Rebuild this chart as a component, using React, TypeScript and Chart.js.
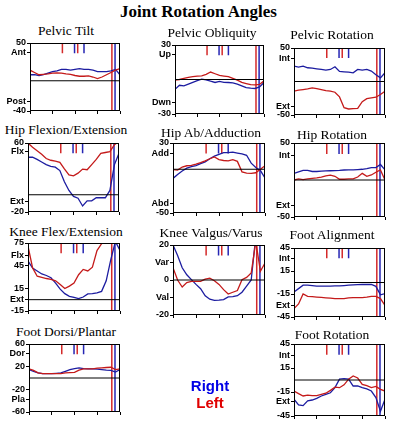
import React, { useEffect, useRef } from 'react';
import { Chart, registerables } from 'chart.js';

Chart.register(...registerables);

// ---- data ----
const cycle = [0, 5, 10, 15, 20, 25, 30, 35, 40, 45, 50, 55, 60, 65, 70, 75, 80, 85, 90, 95, 100];

const pelvicTiltLeft = [14, 11, 8, 8.5, 9, 10, 10.5, 10, 9, 8.5, 7, 6, 6, 6.5, 5, 3, 5, 8, 11, 14, 16];
const pelvicTiltRight = [8, 8, 7, 8, 10, 12, 13, 15, 15, 14, 15, 16, 15, 15, 14, 12, 12, 12, 13, 15, 8];

const pelvicObliquityLeft = [-0.5, 0, 1, 1.8, 2.5, 3, 3.2, 4.5, 6.5, 5, 3.5, 3, 2.5, 1, -0.5, -2.5, -3.5, -4.5, -4.6, -4.3, -1.2];
const pelvicObliquityRight = [-8.5, -5, -5.5, -4, -2.5, -1, 0.3, -0.3, -1.5, -2.6, -1.7, -2.5, -2.6, -3, -4, -5.5, -7, -7.5, -7.8, -6.5, -2.6];

const pelvicRotationLeft = [-14.5, -13, -12, -11, -9.5, -10.5, -12, -13.5, -14.5, -16, -23, -39, -41, -40.5, -40, -30, -25.5, -24.5, -23.5, -19.5, -14.5];
const pelvicRotationRight = [23, 21.5, 23, 20.5, 20, 19, 18, 17, 18, 22, 15, 14.5, 14, 13, 18, 17, 18, 15.5, 10, 5.5, 13];

const hipFlexLeft = [60, 55, 51, 47, 42, 40, 39, 37.5, 30, 23, 22, 25, 29.7, 29, 35, 41, 48, 49, 50, 58, 62];
const hipFlexRight = [43.5, 43.5, 41, 38, 35, 33, 32, 28, 15, 5, -2, -4, -13, -7, -7, -3.5, -3.5, -3.5, 5, 35, 48];

const hipAbLeft = [-0.5, -1, 2.5, 4, 4.5, 5.8, 7.5, 9.5, 12, 14, 11, 10, 9.5, 11, 9, -3, -4.5, -4.6, -4, 0, 4];
const hipAbRight = [-10.5, -6, -2, 1.2, 3, 4.2, 6.5, 8.5, 12, 15, 17, 19, 19, 19.5, 18.5, 17.5, 16, 7, 2, -1.5, -10];

const hipRotationLeft = [0, 1.4, 0.5, 1.4, 2.3, 3, 4, 5.5, 6.5, 5, 1, 1, 1.4, 1.4, 4, 9, 5, 6.8, 10.5, 13.6, 0];
const hipRotationRight = [9, 11, 13, 13, 11.5, 11.5, 12, 12.3, 12.5, 12.7, 13, 13.5, 13.6, 13.6, 14, 14.5, 15.5, 16.8, 16.8, 21, 13.6];

const kneeFlexLeft = [71, 42, 31, 29.5, 28, 27, 25, 20, 14.7, 18, 22, 33, 40, 38, 43, 65, 74, 78, 78, 78, 76];
const kneeFlexRight = [51, 42, 38, 34, 32, 29, 22, 14, 8, 4.5, 3, 1.3, 3.5, 7.6, 8, 8.9, 11, 25, 53, 77, 65];

const kneeValgusLeft = [7, 0, -4, -1.5, -0.8, -0.8, -0.8, 0.5, 1.1, -0.4, -2.5, -5.5, -8, -7, -6, 0.2, 1.5, 4, 22, 5, 9.7];
const kneeValgusRight = [20, 14, 7, 3, 0.2, -2.5, -5, -9, -11, -11.6, -11.5, -11.2, -9.7, -9.5, -9, -7, -3.5, 0, 25, 25, 25];

const footAlignLeft = [-34, -28, -15, -18, -18.5, -19, -19.5, -20, -20.5, -21, -21, -21, -20, -19.7, -19.7, -19.7, -19, -18, -18, -21, -30];
const footAlignRight = [-12.3, -8, -3.5, -3.5, -4, -4.8, -4.8, -4.8, -4.8, -4.5, -4.4, -4, -3.5, -3, -2.7, -2.6, -2.6, -2.6, -5, -16, -14.5];

const footDorsiLeft = [16, 13.5, 9, 7.7, 7.7, 7.7, 7.7, 7.7, 8.9, 9.5, 10, 14, 16, 16, 16, 17.5, 18, 18.5, 19, 14.8, 16];
const footDorsiRight = [14.8, 11.8, 9, 7.7, 7.7, 7.7, 8.3, 8.9, 11.8, 14.8, 16.5, 17.8, 16.5, 16, 16, 15.5, 14.8, 14, 13.6, 10.5, 14.8];

const footRotationLeft = [-13.8, -17, -20, -18.8, -19.5, -19.5, -18, -16.5, -13, -9, -9.6, -6, 1, 5, 2.5, -5.5, -7, -9.6, -8, -11.7, -13.8];
const footRotationRight = [-24, -31, -32, -26, -25, -23, -20, -18, -16, -9.6, 1, 1.7, 1, -7.5, -7.5, -9.6, -11, -13.8, -22, -39, -24];

// gait events (% cycle)
const leftShortEvents = [36, 53];
const rightShortEvents = [49.5, 60];
const leftLongEvents = [91];
const rightLongEvents = [94.5];

const xTickValues = [0, 25, 50, 75, 100];

// y tick values / labels
const pelvicTiltTicks = [50, 38, -27, -40];
const pelvicTiltLabels = ['50', 'Ant', 'Post', '-40'];
const pelvicObliquityTicks = [30, 22, -20, -30];
const pelvicObliquityLabels = ['30', 'Up', 'Dwn', '-30'];
const pelvicRotationTicks = [50, 35, -37, -50];
const pelvicRotationLabels = ['50', 'Int', 'Ext', '-50'];
const hipFlexTicks = [60, 50, -8, -20];
const hipFlexLabels = ['60', 'Flx', 'Ext', '-20'];
const hipAbTicks = [30, 18, -39, -50];
const hipAbLabels = ['30', 'Add', 'Abd', '-50'];
const hipRotationTicks = [50, 33, -34, -50];
const hipRotationLabels = ['50', 'Int', 'Ext', '-50'];
const kneeFlexTicks = [75, 58, 45, 15, 0, -15];
const kneeFlexLabels = ['75', 'Flx', '45', '15', 'Ext', '-15'];
const kneeValgusTicks = [20, 10, 0, -10, -20];
const kneeValgusLabels = ['20', 'Var', '0', 'Val', '-20'];
const footAlignTicks = [45, 31, 15, -15, -30, -45];
const footAlignLabels = ['45', 'Int', '15', '-15', 'Ext', '-45'];
const footDorsiTicks = [60, 43, 20, -20, -38, -60];
const footDorsiLabels = ['60', 'Dor', '20', '-20', 'Pla', '-60'];
const footRotationTicks = [45, 30, 15, -15, -27, -45];
const footRotationLabels = ['45', 'Int', '15', '-15', 'Ext', '-45'];

const RED = '#c41a1a';
const BLUE = '#1c1ca0';
const RED_EVT = '#d42a2a';
const BLUE_EVT = '#2626b4';
const SERIF = '"Liberation Serif", "Times New Roman", Times, serif';

type Panel = {
  title: string;
  left: number[];
  right: number[];
  min: number;
  max: number;
  ticks: number[];
  labels: string[];
  box: number[];
  tx: number;
  ty: number;
};

const panels: Panel[] = [
  { title: 'Pelvic Tilt', left: pelvicTiltLeft, right: pelvicTiltRight, min: -40, max: 50, ticks: pelvicTiltTicks, labels: pelvicTiltLabels, box: [30, 43, 120, 111], tx: 66, ty: 31 },
  { title: 'Pelvic Obliquity', left: pelvicObliquityLeft, right: pelvicObliquityRight, min: -30, max: 30, ticks: pelvicObliquityTicks, labels: pelvicObliquityLabels, box: [175, 45, 264, 114], tx: 212, ty: 33 },
  { title: 'Pelvic Rotation', left: pelvicRotationLeft, right: pelvicRotationRight, min: -50, max: 50, ticks: pelvicRotationTicks, labels: pelvicRotationLabels, box: [294, 48, 385, 115], tx: 332, ty: 35 },
  { title: 'Hip Flexion/Extension', left: hipFlexLeft, right: hipFlexRight, min: -20, max: 60, ticks: hipFlexTicks, labels: hipFlexLabels, box: [28, 143, 119, 212], tx: 66, ty: 130 },
  { title: 'Hip Ab/Adduction', left: hipAbLeft, right: hipAbRight, min: -50, max: 30, ticks: hipAbTicks, labels: hipAbLabels, box: [173, 143, 265, 213], tx: 211, ty: 133 },
  { title: 'Hip Rotation', left: hipRotationLeft, right: hipRotationRight, min: -50, max: 50, ticks: hipRotationTicks, labels: hipRotationLabels, box: [294, 143, 385, 217], tx: 332, ty: 135 },
  { title: 'Knee Flex/Extension', left: kneeFlexLeft, right: kneeFlexRight, min: -15, max: 75, ticks: kneeFlexTicks, labels: kneeFlexLabels, box: [28, 243, 120, 311], tx: 66, ty: 232 },
  { title: 'Knee Valgus/Varus', left: kneeValgusLeft, right: kneeValgusRight, min: -20, max: 20, ticks: kneeValgusTicks, labels: kneeValgusLabels, box: [173, 245, 265, 315], tx: 211, ty: 233 },
  { title: 'Foot Alignment', left: footAlignLeft, right: footAlignRight, min: -45, max: 45, ticks: footAlignTicks, labels: footAlignLabels, box: [294, 248, 385, 317], tx: 332, ty: 235 },
  { title: 'Foot Dorsi/Plantar', left: footDorsiLeft, right: footDorsiRight, min: -60, max: 60, ticks: footDorsiTicks, labels: footDorsiLabels, box: [29, 344, 120, 412], tx: 66, ty: 332 },
  { title: 'Foot Rotation', left: footRotationLeft, right: footRotationRight, min: -45, max: 45, ticks: footRotationTicks, labels: footRotationLabels, box: [294, 344, 385, 416], tx: 332, ty: 335 },
];

const PAD_T = 7;
const AX_W = 30;
const PAD_R = 6;
const AX_H = 7;

const boxPlugin = {
  id: 'boxPlugin',
  afterDatasetsDraw(chart: any) {
    const { ctx, chartArea } = chart;
    ctx.save();
    ctx.strokeStyle = '#000';
    ctx.lineWidth = 1;
    ctx.strokeRect(chartArea.left + 0.5, chartArea.top + 0.5, chartArea.right - chartArea.left - 1, chartArea.bottom - chartArea.top - 1);
    ctx.restore();
  },
};

function PanelChart({ p }: { p: Panel }) {
  const ref = useRef<HTMLCanvasElement>(null);
  const [l, t, r, b] = p.box;
  const w = r - l + AX_W + PAD_R;
  const h = b - t + PAD_T + AX_H;

  useEffect(() => {
    const range = p.max - p.min;
    const shortLen = range * 0.15;
    const eventData = (shorts: number[], longs: number[]) => {
      const d: any[] = [];
      shorts.forEach((e) => {
        d.push({ x: e, y: p.max }, { x: e, y: p.max - shortLen }, { x: e, y: null });
      });
      longs.forEach((e) => {
        d.push({ x: e, y: p.max }, { x: e, y: p.min }, { x: e, y: null });
      });
      return d;
    };
    const labelMap = new Map<number, string>(p.ticks.map((v, i) => [v, p.labels[i]]));
    const chart = new Chart(ref.current as HTMLCanvasElement, {
      type: 'line',
      data: {
        datasets: [
          { data: [{ x: 0, y: 0 }, { x: 100, y: 0 }], borderColor: '#000', borderWidth: 1 },
          { data: cycle.map((x, i) => ({ x, y: p.left[i] })), borderColor: RED, borderWidth: 1.3 },
          { data: cycle.map((x, i) => ({ x, y: p.right[i] })), borderColor: BLUE, borderWidth: 1.3 },
          { data: eventData(leftShortEvents, leftLongEvents), borderColor: RED_EVT, borderWidth: 1.5 },
          { data: eventData(rightShortEvents, rightLongEvents), borderColor: BLUE_EVT, borderWidth: 1.5 },
        ] as any,
      },
      options: {
        responsive: false,
        animation: false,
        devicePixelRatio: 1,
        layout: { padding: { top: PAD_T, right: PAD_R, left: 0, bottom: 0 } },
        plugins: { legend: { display: false }, tooltip: { enabled: false }, title: { display: false } },
        elements: { point: { radius: 0 }, line: { tension: 0, fill: false } },
        scales: {
          x: {
            type: 'linear',
            min: 0,
            max: 100,
            afterBuildTicks: (s: any) => {
              s.ticks = xTickValues.map((v) => ({ value: v }));
            },
            afterFit: (s: any) => {
              s.height = AX_H;
            },
            ticks: { display: false },
            grid: { drawOnChartArea: false, drawTicks: true, tickLength: 3, color: '#000' },
            border: { display: false },
          },
          y: {
            type: 'linear',
            min: p.min,
            max: p.max,
            afterBuildTicks: (s: any) => {
              s.ticks = p.ticks.map((v) => ({ value: v }));
            },
            afterFit: (s: any) => {
              s.width = AX_W;
            },
            ticks: {
              autoSkip: false,
              padding: 1,
              color: '#000',
              font: { family: 'Liberation Sans', size: 9, weight: 'bold' },
              callback: (v: any) => labelMap.get(Number(v)) ?? '',
            },
            grid: { drawOnChartArea: false, drawTicks: true, tickLength: 3, color: '#000' },
            border: { display: false },
          },
        },
      } as any,
      plugins: [boxPlugin],
    });
    return () => chart.destroy();
  }, []);

  return (
    <>
      <div
        style={{
          position: 'absolute',
          left: p.tx - 90,
          top: p.ty - 9,
          width: 180,
          height: 18,
          lineHeight: '18px',
          textAlign: 'center',
          fontFamily: SERIF,
          fontWeight: 'normal',
          fontSize: 13.5,
          color: '#000',
          whiteSpace: 'nowrap',
        }}
      >
        {p.title}
      </div>
      <canvas
        ref={ref}
        width={w}
        height={h}
        style={{ position: 'absolute', left: l - AX_W, top: t - PAD_T, width: w, height: h, display: 'block' }}
      />
    </>
  );
}

export default function App() {
  return (
    <div
      style={{
        position: 'fixed',
        left: 0,
        top: 0,
        width: 397,
        height: 424,
        background: '#fff',
        overflow: 'hidden',
      }}
    >
      <div
        style={{
          position: 'absolute',
          left: 0,
          top: 1,
          width: 397,
          height: 22,
          lineHeight: '22px',
          textAlign: 'center',
          fontFamily: SERIF,
          fontWeight: 'bold',
          fontSize: 17,
          color: '#000',
        }}
      >
        Joint Rotation Angles
      </div>
      {panels.map((p) => (
        <PanelChart key={p.title} p={p} />
      ))}
      <div
        style={{
          position: 'absolute',
          left: 160,
          top: 377,
          width: 100,
          height: 18,
          lineHeight: '18px',
          textAlign: 'center',
          fontFamily: 'Liberation Sans',
          fontWeight: 'bold',
          fontSize: 15,
          color: '#0000e6',
        }}
      >
        Right
      </div>
      <div
        style={{
          position: 'absolute',
          left: 160,
          top: 394,
          width: 100,
          height: 18,
          lineHeight: '18px',
          textAlign: 'center',
          fontFamily: 'Liberation Sans',
          fontWeight: 'bold',
          fontSize: 15,
          color: '#e00000',
        }}
      >
        Left
      </div>
    </div>
  );
}
